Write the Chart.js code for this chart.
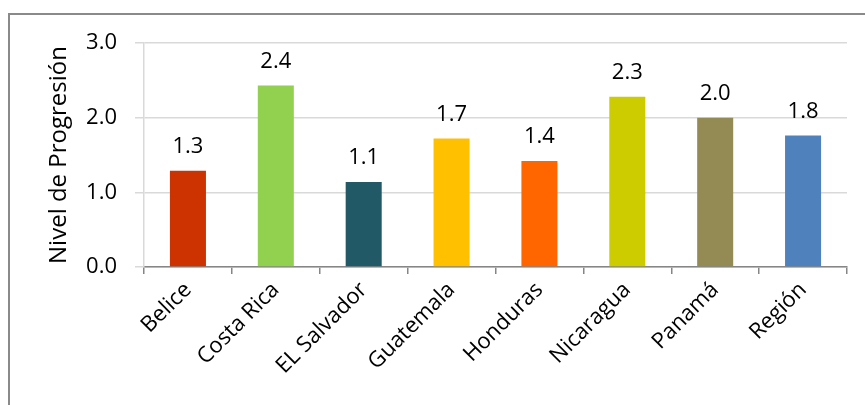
<!DOCTYPE html>
<html>
<head>
<meta charset="utf-8">
<script src="https://cdn.jsdelivr.net/npm/chart.js@4"></script>
<style>
  html, body { margin: 0; padding: 0; background: #ffffff; }
  #wrap { position: relative; width: 865px; height: 405px; overflow: hidden; }
  #frame { position: absolute; left: 8px; top: 13px; width: 900px; height: 500px; border: 2px solid #8a8a8a; box-sizing: border-box; }
  #c { position: absolute; left: 0; top: 0; }
</style>
</head>
<body>
<div id="wrap">
  <div id="frame"></div>
  <canvas id="c" width="865" height="405"></canvas>
</div>
<script>
const categories = ["Belice", "Costa Rica", "EL Salvador", "Guatemala", "Honduras", "Nicaragua", "Panamá", "Región"];
const values = [1.29, 2.43, 1.14, 1.72, 1.42, 2.28, 2.0, 1.76];
const barColors = ["#CC3300", "#92D050", "#215967", "#FFC000", "#FF6600", "#CCCC00", "#948A54", "#4F81BD"];
const yAxisTitle = "Nivel de Progresión";

const FONT = "'Open Sans', sans-serif";

const valueLabels = {
  id: 'valueLabels',
  afterDatasetsDraw(chart) {
    const ctx = chart.ctx;
    const meta = chart.getDatasetMeta(0);
    ctx.save();
    ctx.font = "22px " + FONT;
    ctx.fillStyle = "#000";
    ctx.textAlign = "center";
    ctx.textBaseline = "alphabetic";
    meta.data.forEach((bar, i) => {
      ctx.fillText(values[i].toFixed(1), bar.x, bar.y - 18);
    });
    ctx.restore();
  }
};

new Chart(document.getElementById('c'), {
  type: 'bar',
  data: {
    labels: categories,
    datasets: [{
      data: values,
      backgroundColor: barColors,
      borderWidth: 0,
      barPercentage: 0.41,
      categoryPercentage: 1.0
    }]
  },
  options: {
    responsive: false,
    animation: false,
    devicePixelRatio: 1,
    layout: { padding: { top: 43, right: 18, left: 0, bottom: 0 } },
    plugins: { legend: { display: false }, tooltip: { enabled: false } },
    scales: {
      x: {
        afterFit(scale) { scale.height = 138; },
        grid: { drawOnChartArea: false, drawTicks: true, tickLength: 7, color: '#868686', lineWidth: 1.5, offset: true },
        border: { color: '#868686', width: 1.5 },
        ticks: {
          color: '#000',
          font: { family: FONT, size: 22 },
          maxRotation: 45, minRotation: 45,
          padding: 3,
          autoSkip: false
        }
      },
      y: {
        min: 0, max: 3,
        afterFit(scale) { scale.width = 144; },
        grid: { color: '#D9D9D9', lineWidth: 1.5, tickLength: 9 },
        border: { color: '#D9D9D9', width: 1.5 },
        ticks: {
          stepSize: 1,
          color: '#000',
          font: { family: FONT, size: 22 },
          padding: 18,
          callback: v => Number(v).toFixed(1)
        },
        title: {
          display: true,
          text: yAxisTitle,
          color: '#000',
          font: { family: FONT, size: 24 },
          padding: { top: 45, bottom: 0 }
        }
      }
    }
  },
  plugins: [valueLabels]
});
</script>
</body>
</html>
